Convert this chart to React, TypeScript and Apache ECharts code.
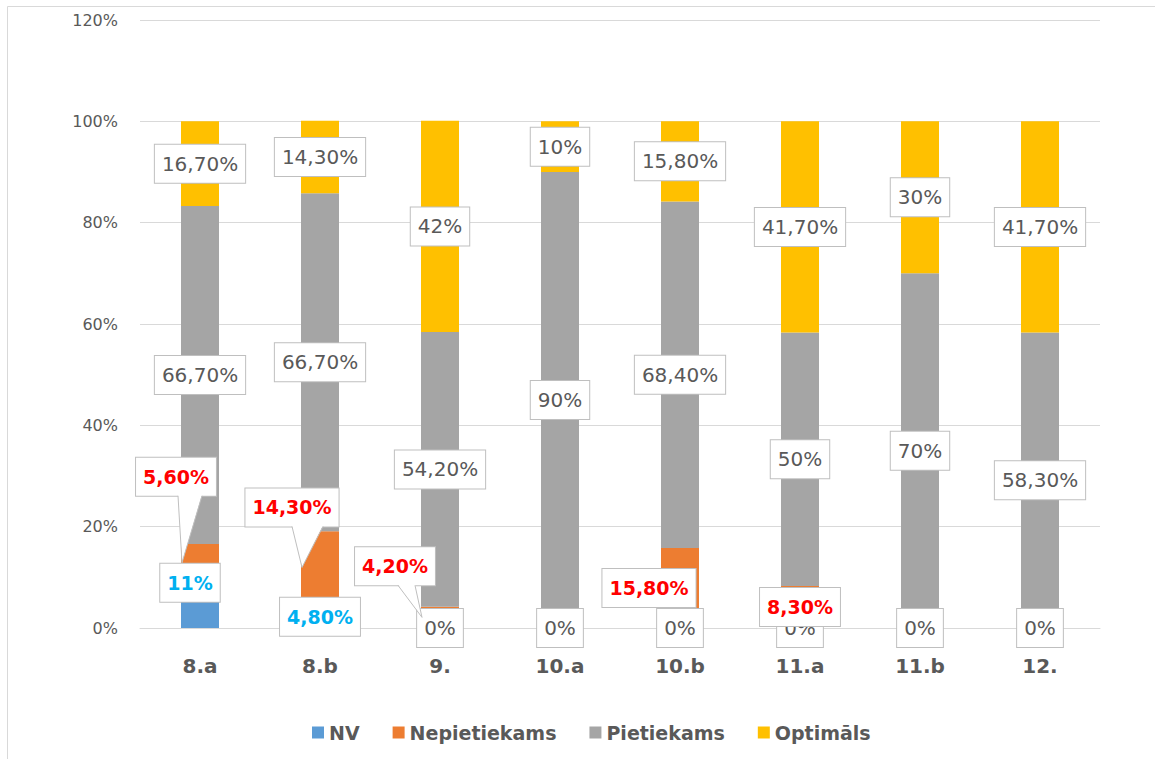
import React, { useEffect, useRef } from 'react';
import * as echarts from 'echarts';

// ---------- data ----------
const categories = ['8.a', '8.b', '9.', '10.a', '10.b', '11.a', '11.b', '12.'];
const seriesNames = ['NV', 'Nepietiekams', 'Pietiekams', 'Optimāls'];

const nvValues = [5.6, 4.8, 0, 0, 0, 0, 0, 0];
const nepValues: (number | null)[] = [11, 14.3, 4.2, null, 15.8, 8.3, null, null];
const pietValues = [66.7, 66.7, 54.2, 90, 68.4, 50, 70, 58.3];
const optValues = [16.7, 14.3, 41.7, 10, 15.8, 41.7, 30, 41.7];

const nvLabels = ['11%', '4,80%', '0%', '0%', '0%', '0%', '0%', '0%'];
const nepLabels = ['5,60%', '14,30%', '4,20%', '', '15,80%', '8,30%', '', ''];
const pietLabels = ['66,70%', '66,70%', '54,20%', '90%', '68,40%', '50%', '70%', '58,30%'];
const optLabels = ['16,70%', '14,30%', '42%', '10%', '15,80%', '41,70%', '30%', '41,70%'];

// ---------- layout / style (not data) ----------
const FONT = 'DejaVu Sans';
const GRAY_TEXT = '#595959';
const colors = ['#5B9BD5', '#ED7D31', '#A5A5A5', '#FFC000'];
const BAR_W = 38;

const nvLabelOffsets = [[-10, -31], [0, 1], [0, 0], [0, 0], [0, 0], [0, 0], [0, 0], [0, 0]];
const nvLabelHighlight = [true, true, false, false, false, false, false, false];
const nepLabelOffsets = [[-24, -95], [-28, -60], [-45, -51], [0, 0], [-31, 0], [0, 0], [0, 0], [0, 0]];
const callouts = [
  { index: 0, tipDy: -9, baseL: 2, baseR: 26 },
  { index: 1, tipDy: 0, baseL: 0, baseR: 31 },
  { index: 2, tipDy: 0, baseL: 3, baseR: 20 },
];
const BOX_HALF_H = 19;

const boxStyle = {
  backgroundColor: '#ffffff',
  borderColor: '#BFBFBF',
  borderWidth: 1,
  padding: [7, 7],
  lineHeight: 24,
  fontFamily: FONT,
};

export default function App() {
  const ref = useRef<HTMLDivElement>(null);

  useEffect(() => {
    if (!ref.current) return;
    const chart = echarts.init(ref.current, undefined, { renderer: 'svg' });

    const grayLabel = {
      show: true,
      position: 'inside',
      ...boxStyle,
      color: GRAY_TEXT,
      fontSize: 20,
      fontWeight: 'normal',
    };

    const nvData = nvValues.map((v, i) => ({
      value: v,
      label: {
        formatter: nvLabels[i],
        offset: nvLabelOffsets[i],
        color: nvLabelHighlight[i] ? '#00B0F0' : GRAY_TEXT,
        fontWeight: nvLabelHighlight[i] ? 'bold' : 'normal',
        fontSize: nvLabelHighlight[i] ? 19 : 20,
      },
    }));
    const nepData = nepValues.map((v, i) =>
      v == null
        ? '-'
        : {
            value: v,
            label: {
              formatter: nepLabels[i],
              offset: nepLabelOffsets[i],
              color: '#FF0000',
              fontWeight: 'bold',
              fontSize: 19,
            },
          }
    );
    const pietData = pietValues.map((v, i) => ({ value: v, label: { formatter: pietLabels[i] } }));
    const optData = optValues.map((v, i) => ({ value: v, label: { formatter: optLabels[i] } }));

    const calloutData = callouts.map((c) => [c.index, nvValues[c.index] + (nepValues[c.index] as number) / 2]);

    const barBase = {
      type: 'bar',
      stack: 'total',
      barWidth: BAR_W,
      label: grayLabel,
      emphasis: { disabled: true },
    };

    chart.setOption({
      animation: false,
      color: colors,
      textStyle: { fontFamily: FONT },
      graphic: [
        {
          type: 'rect',
          shape: { x: 7.5, y: 6.5, width: 1200, height: 800 },
          style: { fill: 'none', stroke: '#D9D9D9', lineWidth: 1 },
          silent: true,
          z: -10,
        },
      ],
      grid: { left: 140, right: 55, top: 20, bottom: 131, containLabel: false },
      legend: {
        data: seriesNames,
        left: 307,
        top: 718,
        itemWidth: 12,
        itemHeight: 12,
        itemGap: 33,
        icon: 'rect',
        textStyle: { fontFamily: FONT, fontSize: 19, fontWeight: 'bold', color: GRAY_TEXT },
      },
      xAxis: {
        type: 'category',
        data: categories,
        axisTick: { show: false },
        axisLine: { lineStyle: { color: '#D9D9D9' } },
        axisLabel: { fontFamily: FONT, fontSize: 20, fontWeight: 'bold', color: GRAY_TEXT, margin: 28 },
      },
      yAxis: {
        type: 'value',
        min: 0,
        max: 120,
        interval: 20,
        axisLabel: { formatter: '{value}%', fontFamily: FONT, fontSize: 16, color: GRAY_TEXT, margin: 22 },
        splitLine: { lineStyle: { color: '#D9D9D9' } },
        axisLine: { show: false },
        axisTick: { show: false },
      },
      series: [
        { ...barBase, name: seriesNames[0], data: nvData },
        { ...barBase, name: seriesNames[1], data: nepData },
        { ...barBase, name: seriesNames[2], data: pietData },
        { ...barBase, name: seriesNames[3], data: optData },
        {
          type: 'custom',
          name: 'callouts',
          silent: true,
          z: 10,
          data: calloutData,
          encode: { x: 0, y: 1 },
          renderItem: (params: any, api: any) => {
            const c = callouts[params.dataIndex];
            const p = api.coord([api.value(0), api.value(1)]);
            const off = nepLabelOffsets[c.index];
            const cx = p[0] + off[0];
            const cy = p[1] + off[1];
            const bottom = cy + BOX_HALF_H;
            const tip = [p[0] - BAR_W / 2 + 1, p[1] + c.tipDy];
            return {
              type: 'group',
              children: [
                {
                  type: 'polygon',
                  shape: { points: [[cx + c.baseL, bottom - 1], [cx + c.baseR, bottom - 1], tip] },
                  style: { fill: '#ffffff', stroke: 'none' },
                },
                {
                  type: 'polyline',
                  shape: { points: [[cx + c.baseL, bottom], tip, [cx + c.baseR, bottom]] },
                  style: { fill: 'none', stroke: '#BFBFBF', lineWidth: 1 },
                },
              ],
            };
          },
        },
      ],
    });

    return () => chart.dispose();
  }, []);

  return (
    <div
      ref={ref}
      style={{ position: 'fixed', left: 0, top: 0, width: 1155, height: 759, background: '#fff' }}
    />
  );
}
